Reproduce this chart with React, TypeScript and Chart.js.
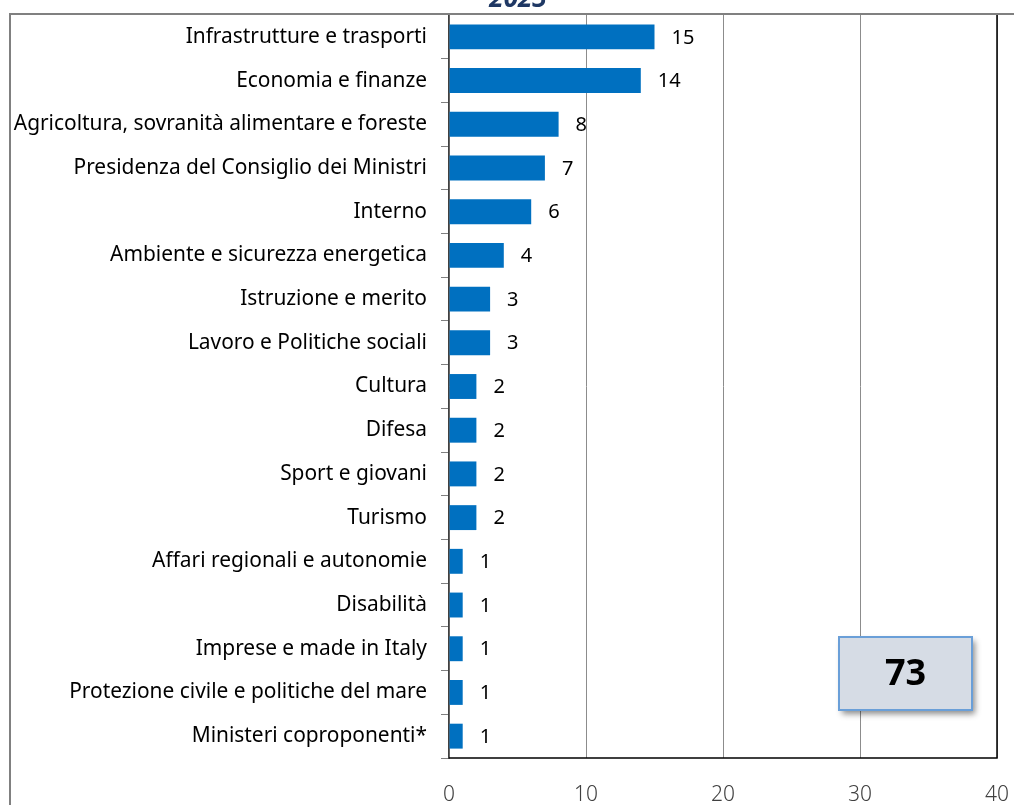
import React, { useEffect, useRef } from "react";
import { Chart, registerables } from "chart.js";

Chart.register(...registerables);

const CATEGORIES = [
  "Infrastrutture e trasporti",
  "Economia e finanze",
  "Agricoltura, sovranità alimentare e foreste",
  "Presidenza del Consiglio dei Ministri",
  "Interno",
  "Ambiente e sicurezza energetica",
  "Istruzione e merito",
  "Lavoro e Politiche sociali",
  "Cultura",
  "Difesa",
  "Sport e giovani",
  "Turismo",
  "Affari regionali e autonomie",
  "Disabilità",
  "Imprese e made in Italy",
  "Protezione civile e politiche del mare",
  "Ministeri coproponenti*",
];
const VALUES = [15, 14, 8, 7, 6, 4, 3, 3, 2, 2, 2, 2, 1, 1, 1, 1, 1];
const TITLE = "2023";
const X_MIN = 0;
const X_MAX = 40;
const X_STEP = 10;

const FONT = "'Noto Sans', 'Open Sans', sans-serif";

const decorPlugin = {
  id: "decor",
  afterDraw(chart: any) {
    const { ctx, chartArea } = chart;
    ctx.save();
    // value labels
    ctx.fillStyle = "#000";
    ctx.font = `20px ${FONT}`;
    ctx.textAlign = "left";
    ctx.textBaseline = "middle";
    const meta = chart.getDatasetMeta(0);
    meta.data.forEach((bar: any, i: number) => {
      ctx.fillText(String(VALUES[i]), bar.x + 17, bar.y + 1);
    });
    // plot border (right, bottom)
    ctx.strokeStyle = "#000";
    ctx.lineWidth = 1.5;
    ctx.beginPath();
    ctx.moveTo(chartArea.left, chartArea.bottom);
    ctx.lineTo(chartArea.right, chartArea.bottom);
    ctx.lineTo(chartArea.right, chartArea.top);
    ctx.stroke();
    // outer frame
    ctx.strokeStyle = "#808080";
    ctx.lineWidth = 2;
    ctx.beginPath();
    ctx.moveTo(10, chart.height + 5);
    ctx.lineTo(10, chartArea.top - 1);
    ctx.lineTo(chart.width + 5, chartArea.top - 1);
    ctx.stroke();
    // title
    ctx.fillStyle = "#1F3864";
    ctx.font = `italic bold 26px ${FONT}`;
    ctx.textAlign = "center";
    ctx.textBaseline = "alphabetic";
    ctx.fillText(TITLE, 518, 7);
    // total box
    const total = VALUES.reduce((a, b) => a + b, 0);
    const bw = 133;
    const bh = 73;
    const bx = chartArea.right - 25 - bw;
    const by = chartArea.bottom - 48 - bh;
    ctx.shadowColor = "rgba(0,0,0,0.45)";
    ctx.shadowBlur = 6;
    ctx.shadowOffsetX = 3;
    ctx.shadowOffsetY = 4;
    ctx.fillStyle = "#D6DCE5";
    ctx.fillRect(bx, by, bw, bh);
    ctx.shadowColor = "transparent";
    ctx.strokeStyle = "#6A9FD8";
    ctx.lineWidth = 2;
    ctx.strokeRect(bx, by, bw, bh);
    ctx.fillStyle = "#000";
    ctx.font = `bold 36px ${FONT}`;
    ctx.textAlign = "center";
    ctx.textBaseline = "middle";
    ctx.fillText(String(total), bx + bw / 2, by + bh / 2 + 1);
    ctx.restore();
  },
};

export default function App() {
  const ref = useRef<HTMLCanvasElement>(null);
  useEffect(() => {
    if (!ref.current) return;
    const chart = new Chart(ref.current, {
      type: "bar",
      data: {
        labels: CATEGORIES,
        datasets: [
          {
            data: VALUES,
            backgroundColor: "#0070C0",
            borderWidth: 0,
            barPercentage: 0.57,
            categoryPercentage: 1,
          },
        ],
      },
      options: {
        indexAxis: "y",
        responsive: false,
        animation: false,
        devicePixelRatio: 1,
        layout: { padding: { top: 15, right: 17, bottom: 0, left: 0 } },
        plugins: {
          legend: { display: false },
          tooltip: { enabled: false },
          title: { display: false },
        },
        scales: {
          x: {
            min: X_MIN,
            max: X_MAX,
            afterFit(scale: any) {
              scale.height = 47;
              scale.paddingLeft = 0;
              scale.paddingRight = 0;
            },
            grid: {
              color: "#8C8C8C",
              lineWidth: 1,
              drawTicks: false,
            },
            border: { display: false },
            ticks: {
              stepSize: X_STEP,
              padding: 24,
              maxRotation: 0,
              color: "#404040",
              font: { family: FONT, size: 21, weight: "300" },
            },
          },
          y: {
            afterFit(scale: any) {
              scale.width = 449;
              scale.paddingTop = 0;
              scale.paddingBottom = 0;
            },
            grid: {
              drawOnChartArea: false,
              drawTicks: true,
              tickLength: 8,
              offset: true,
              color: "#808080",
            },
            border: { display: true, color: "#404040", width: 1.5 },
            ticks: {
              padding: 14,
              color: "#000",
              font: { family: FONT, size: 20.9 },
            },
          },
        },
      },
      plugins: [decorPlugin],
    });
    return () => chart.destroy();
  }, []);
  return (
    <div style={{ position: "fixed", left: 0, top: 0, width: 1014, height: 805 }}>
      <canvas ref={ref} width={1014} height={805} />
    </div>
  );
}
